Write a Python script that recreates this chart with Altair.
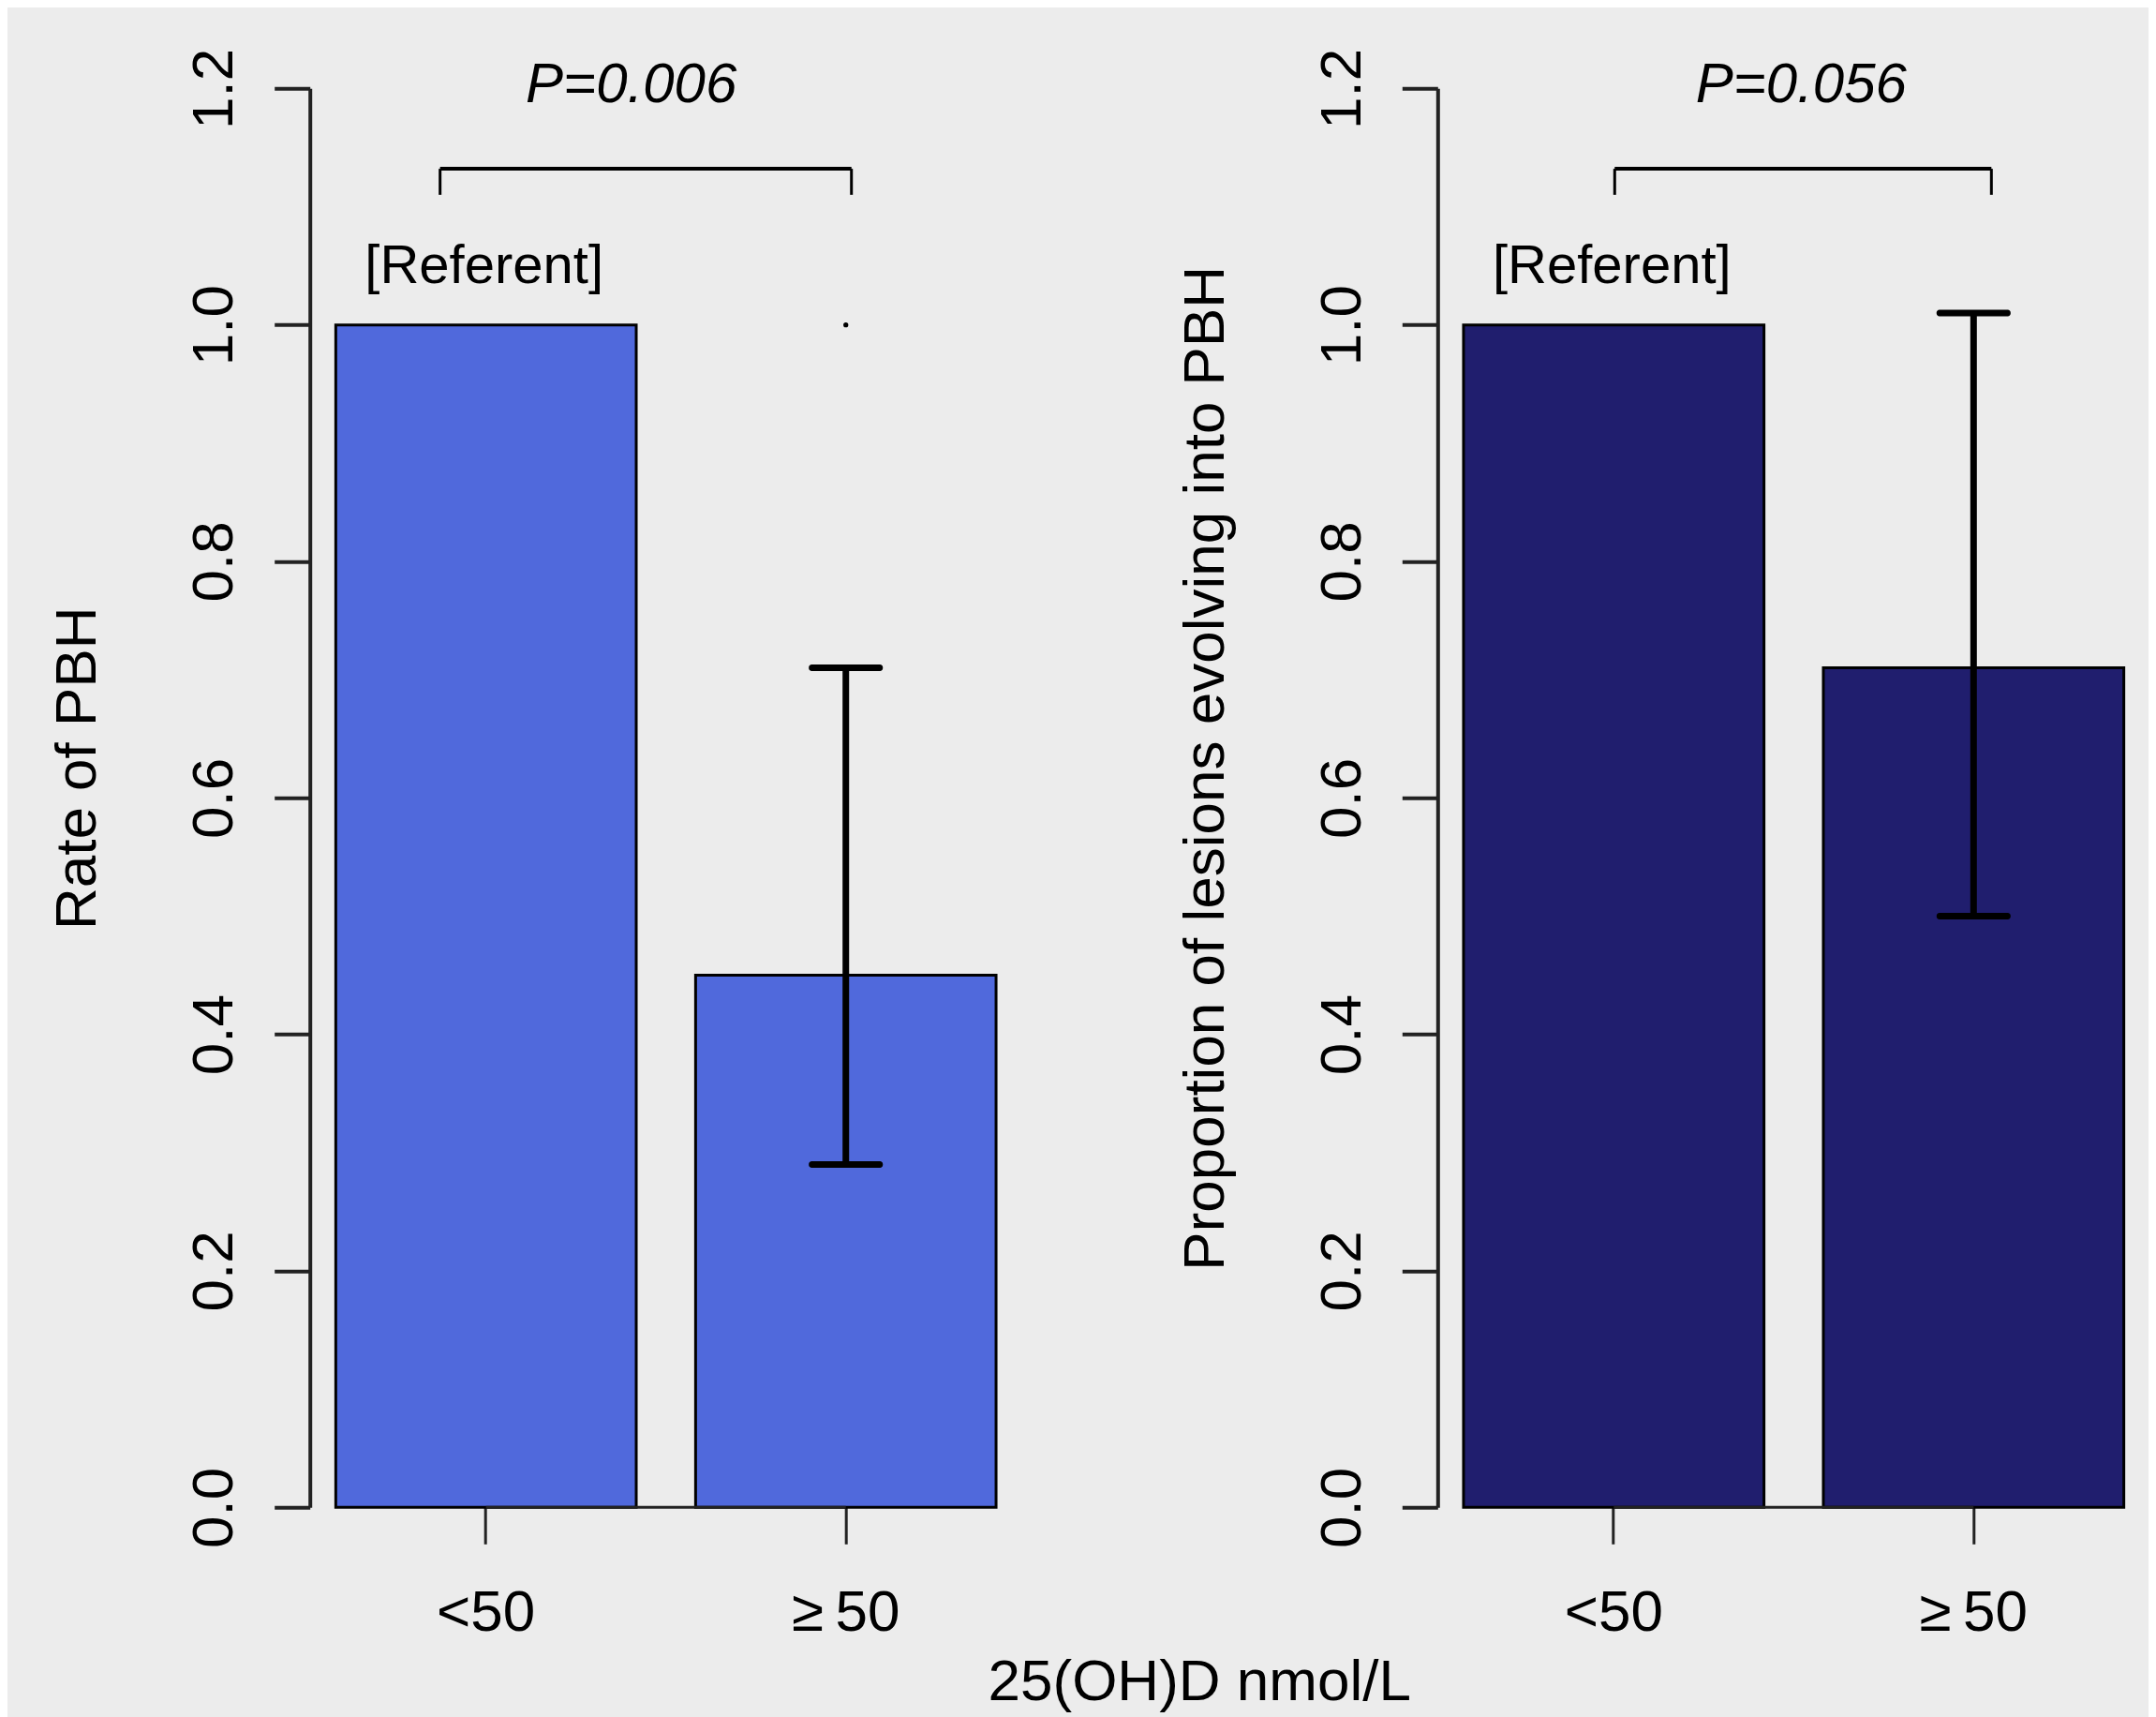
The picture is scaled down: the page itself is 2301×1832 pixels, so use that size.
import altair as alt
import pandas as pd

# ---- data ----
categories = ["<50", "≥\u200950"]
left_values = [1.0, 0.45]
left_lo = [None, 0.29]
left_hi = [None, 0.71]
right_values = [1.0, 0.71]
right_lo = [None, 0.50]
right_hi = [None, 1.01]
p_labels = ["P=0.006", "P=0.056"]
y_titles = ["Rate of PBH", "Proportion of lesions evolving into PBH"]
x_title = "25(OH)D nmol/L"
referent_label = "[Referent]"
y_ticks = [0.0, 0.2, 0.4, 0.6, 0.8, 1.0, 1.2]
bracket_top = 1.132
bracket_end = 1.11
p_y = 1.1885
referent_y = 1.035
left_colors = "#5069DC"
right_colors = "#201E6E"

FONT = "Liberation Sans"
AX = "#222222"
W = 760
H = 1514


def panel(values, lo, hi, color, ytitle, ptext, show_xtitle, br_off, p_dx, dot):
    df = pd.DataFrame({"cat": categories, "value": values, "lo": lo, "hi": hi})
    eb = df.dropna()

    xaxis = alt.Axis(domain=False, ticks=True, tickSize=39, tickWidth=3, tickColor=AX,
                     labelFontSize=62, labelFont=FONT, labelColor="black", labelAngle=0,
                     labelPadding=92, labelBaseline="alphabetic", grid=False,
                     title=x_title if show_xtitle else "",
                     titleFontSize=62, titleFont=FONT, titleFontWeight="normal",
                     titleColor="black", titleX=949, titleY=205, titleAlign="center",
                     titleBaseline="alphabetic")
    x = alt.X("cat:N", sort=categories,
              scale=alt.Scale(domain=categories, paddingInner=0.165, paddingOuter=0.072),
              axis=xaxis)
    yaxis = alt.Axis(values=y_ticks, format=".1f", labelAngle=270, labelAlign="center",
                     labelBaseline="alphabetic", labelPadding=45, labelOverlap=False,
                     tickSize=38, tickWidth=4, tickColor=AX, domainColor=AX, domainWidth=4,
                     labelFontSize=62, labelFont=FONT, labelColor="black", grid=False,
                     title=ytitle, titleAngle=270, titleX=-229, titleY=725,
                     titleAlign="center", titleBaseline="alphabetic", titleFontSize=62,
                     titleFont=FONT, titleFontWeight="normal", titleColor="black")
    y = alt.Y("value:Q", scale=alt.Scale(domain=[0, 1.2], nice=False, zero=True), axis=yaxis)

    bars = alt.Chart(df).mark_bar(fill=color, stroke="black", strokeWidth=3).encode(x=x, y=y)
    base = alt.Chart(df).mark_line(color=AX, strokeWidth=3).encode(
        x=alt.X("cat:N", sort=categories), y=alt.datum(0))
    rule = alt.Chart(eb).mark_rule(color="black", strokeWidth=7).encode(
        x="cat:N", y="lo:Q", y2="hi:Q")
    cap_lo = alt.Chart(eb).mark_tick(color="black", size=79, thickness=7, orient="horizontal",
                                     cornerRadius=3, opacity=1).encode(x="cat:N", y="lo:Q")
    cap_hi = alt.Chart(eb).mark_tick(color="black", size=79, thickness=7, orient="horizontal",
                                     cornerRadius=3, opacity=1).encode(x="cat:N", y="hi:Q")

    bdf = pd.DataFrame({"a": [categories[0]], "b": [categories[1]],
                        "top": [bracket_top], "end": [bracket_end]})
    b_h = alt.Chart(bdf).mark_rule(color="black", strokeWidth=4,
                                   xOffset=br_off[0], x2Offset=br_off[1]).encode(
        x="a:N", x2="b:N", y="top:Q")
    b_l = alt.Chart(bdf).mark_rule(color="black", strokeWidth=3, xOffset=br_off[0]).encode(
        x="a:N", y="top:Q", y2="end:Q")
    b_r = alt.Chart(bdf).mark_rule(color="black", strokeWidth=3, xOffset=br_off[1]).encode(
        x="b:N", y="top:Q", y2="end:Q")

    tdf = pd.DataFrame({"cat": [categories[0]], "y": [p_y], "label": [ptext]})
    ptxt = alt.Chart(tdf).mark_text(font=FONT, fontSize=60, fontStyle="italic", color="black",
                                    baseline="alphabetic", align="center", dx=p_dx).encode(
        x="cat:N", y="y:Q", text="label:N")
    rdf = pd.DataFrame({"cat": [categories[0]], "y": [referent_y], "label": [referent_label]})
    rtxt = alt.Chart(rdf).mark_text(font=FONT, fontSize=58, color="black",
                                    baseline="alphabetic", align="center", dx=-2).encode(
        x="cat:N", y="y:Q", text="label:N")

    layers = [bars, base, rule, cap_lo, cap_hi, b_h, b_l, b_r, ptxt, rtxt]
    if dot:
        ddf = pd.DataFrame({"cat": [categories[1]], "y": [1.0]})
        layers.append(alt.Chart(ddf).mark_circle(color="black", size=28, opacity=1).encode(
            x="cat:N", y="y:Q"))
    return alt.layer(*layers).properties(width=W, height=H)


left = panel(left_values, left_lo, left_hi, left_colors, y_titles[0], p_labels[0],
             True, (-49, 6), 155, True)
right = panel(right_values, right_lo, right_hi, right_colors, y_titles[1], p_labels[1],
              False, (1, 19), 200, False)

chart = alt.hconcat(left, right, spacing=443.6, bounds="flush").properties(
    autosize=alt.AutoSizeParams(type="none"),
    padding={"left": 322.7, "top": 86.3, "right": 1962.3, "bottom": 1729.7},
).configure(background="#ECECEC").configure_view(strokeWidth=0)

chart.save("out.html", embed_options={"renderer": "svg", "actions": False})
